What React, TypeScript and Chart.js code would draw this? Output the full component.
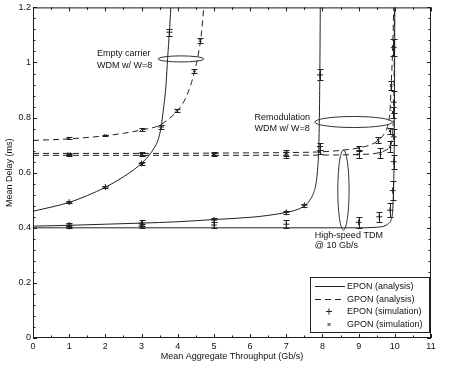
import React, { useEffect, useRef } from "react";
import { Chart, registerables } from "chart.js";

Chart.register(...registerables);

const FONT = '"Liberation Sans", Arial, Helvetica, sans-serif';
const INK = "#222";

// ---- axis ticks ----
const xMajorTicks = [0, 1, 2, 3, 4, 5, 6, 7, 8, 9, 10, 11];
const xMinorTicks = [0.5, 1.5, 2.5, 3.5, 4.5, 5.5, 6.5, 7.5, 8.5, 9.5, 10.5];
const yMajorTicks = [0, 0.2, 0.4, 0.6, 0.8, 1.0, 1.2];
const yMinorTicks = [
  0.04, 0.08, 0.12, 0.16, 0.24, 0.28, 0.32, 0.36, 0.44, 0.48, 0.52, 0.56,
  0.64, 0.68, 0.72, 0.76, 0.84, 0.88, 0.92, 0.96, 1.04, 1.08, 1.12, 1.16,
];

// ---- analysis curves [throughput Gb/s, delay ms] ----
const eponEmptyCarrier = [
  [0, 0.46], [0.5, 0.475], [1, 0.492], [1.5, 0.517], [2, 0.547], [2.5, 0.585],
  [2.8, 0.612], [3, 0.634], [3.2, 0.662], [3.35, 0.69], [3.46, 0.72], [3.54, 0.766],
  [3.6, 0.825], [3.68, 0.925], [3.72, 1.014], [3.77, 1.11], [3.81, 1.2],
];
const gponEmptyCarrier = [
  [0, 0.717], [1, 0.723], [2, 0.734], [2.5, 0.743], [3, 0.755], [3.5, 0.772],
  [3.75, 0.795], [4, 0.826], [4.2, 0.866], [4.35, 0.915], [4.46, 0.965],
  [4.57, 1.03], [4.65, 1.1], [4.72, 1.2],
];
const eponRemodulation = [
  [0, 0.406], [1, 0.409], [2, 0.413], [3, 0.417], [4, 0.422], [5, 0.43],
  [6, 0.438], [6.5, 0.445], [7, 0.456], [7.3, 0.466], [7.5, 0.48], [7.65, 0.5],
  [7.75, 0.525], [7.82, 0.56], [7.87, 0.62], [7.9, 0.7], [7.92, 0.85],
  [7.93, 1.0], [7.94, 1.2],
];
const gponRemodulation = [
  [0, 0.67], [3, 0.67], [6, 0.672], [7, 0.673], [8, 0.676], [8.5, 0.681],
  [9, 0.69], [9.3, 0.7], [9.55, 0.718], [9.72, 0.745], [9.82, 0.78],
  [9.87, 0.83], [9.9, 0.92], [9.94, 1.05], [9.97, 1.2],
];
const eponTdm = [
  [0, 0.4], [5, 0.4], [9, 0.4], [9.5, 0.402], [9.7, 0.406], [9.82, 0.415],
  [9.9, 0.43], [9.94, 0.46], [9.96, 0.52], [9.98, 0.65], [9.99, 0.85], [10.0, 1.2],
];
const gponTdm = [
  [0, 0.663], [5, 0.663], [8, 0.664], [9, 0.666], [9.4, 0.669], [9.6, 0.674],
  [9.78, 0.684], [9.87, 0.695], [9.93, 0.73], [9.96, 0.8], [9.98, 0.95], [9.99, 1.2],
];

// ---- simulation points [x, y] and half error bars ----
const eponSimulation = [
  [1, 0.493], [2, 0.548], [3, 0.633], [3.54, 0.766], [3.77, 1.11],
  [1, 0.41], [3, 0.417], [5, 0.428], [7, 0.456], [7.5, 0.482], [7.93, 0.695], [7.93, 0.955],
  [1, 0.405], [3, 0.407], [5, 0.41], [7, 0.413], [9, 0.42], [9.57, 0.44], [9.87, 0.464],
  [9.94, 0.535], [9.97, 0.64], [9.97, 0.73], [9.97, 0.856], [9.97, 1.055],
];
const eponSimulationErr = [
  0.003, 0.004, 0.006, 0.006, 0.012,
  0.007, 0.01, 0.008, 0.006, 0.006, 0.012, 0.02,
  0.005, 0.007, 0.01, 0.014, 0.019, 0.018, 0.026,
  0.035, 0.025, 0.03, 0.04, 0.03,
];
const gponSimulation = [
  [1, 0.725], [2, 0.735], [3, 0.757], [3.97, 0.827], [4.46, 0.97], [4.62, 1.08],
  [1, 0.669], [3, 0.669], [5, 0.67], [7, 0.672], [7.93, 0.675], [9, 0.69], [9.54, 0.718],
  [9.87, 0.752], [9.9, 0.917],
  [1, 0.665], [3, 0.665], [5, 0.665], [7, 0.664], [9, 0.667], [9.6, 0.67], [9.87, 0.694],
  [9.95, 0.82], [9.96, 1.055],
];
const gponSimulationErr = [
  0.003, 0.003, 0.004, 0.005, 0.008, 0.01,
  0.004, 0.005, 0.006, 0.01, 0.008, 0.008, 0.01, 0.012, 0.017,
  0.003, 0.005, 0.006, 0.01, 0.012, 0.018, 0.02, 0.02, 0.03,
];

const legendLabels = ["EPON (analysis)", "GPON (analysis)", "EPON (simulation)", "GPON (simulation)"];

// annotation ellipses (data units) and texts
const annotationEllipses = [
  { cx: 4.09, cy: 1.013, rx: 0.63, ry: 0.011 },
  { cx: 8.86, cy: 0.784, rx: 1.07, ry: 0.02 },
  { cx: 8.58, cy: 0.537, rx: 0.156, ry: 0.145 },
];
const annotationTexts = [
  { x: 1.77, y: 1.033, text: "Empty carrier" },
  { x: 1.77, y: 0.99, text: "WDM w/ W=8" },
  { x: 6.12, y: 0.801, text: "Remodulation" },
  { x: 6.12, y: 0.761, text: "WDM w/ W=8" },
  { x: 7.79, y: 0.373, text: "High-speed TDM" },
  { x: 7.79, y: 0.334, text: "@ 10 Gb/s" },
];

const toXY = (pts: number[][]) => pts.map(([x, y]) => ({ x, y }));

const analysisLine = (label: string, pts: number[][], dashed: boolean) => ({
  type: "line" as const,
  label,
  data: toXY(pts),
  borderColor: INK,
  borderWidth: 1,
  borderDash: dashed ? [6, 4] : [],
  pointRadius: 0,
  pointHoverRadius: 0,
  fill: false,
  cubicInterpolationMode: "monotone" as const,
});

const framePlugin = {
  id: "frame",
  afterDatasetsDraw(chart: any) {
    const { ctx, chartArea, scales } = chart;
    const { left, right, top, bottom } = chartArea;
    const xs = scales.x;
    const ys = scales.y;
    ctx.save();

    // error bars
    const errs = [
      { idx: 6, e: eponSimulationErr },
      { idx: 7, e: gponSimulationErr },
    ];
    ctx.strokeStyle = INK;
    ctx.lineWidth = 1;
    errs.forEach(({ idx, e }) => {
      const ds = chart.data.datasets[idx];
      ds.data.forEach((p: any, i: number) => {
        const px = Math.round(xs.getPixelForValue(p.x)) + 0.5;
        const y1 = Math.round(ys.getPixelForValue(p.y + e[i])) + 0.5;
        const y2 = Math.round(ys.getPixelForValue(p.y - e[i])) + 0.5;
        ctx.beginPath();
        ctx.moveTo(px, y1);
        ctx.lineTo(px, y2);
        ctx.moveTo(px - 3, y1);
        ctx.lineTo(px + 3, y1);
        ctx.moveTo(px - 3, y2);
        ctx.lineTo(px + 3, y2);
        ctx.stroke();
      });
    });

    // ellipses
    ctx.strokeStyle = "#333";
    annotationEllipses.forEach((el) => {
      const cx = xs.getPixelForValue(el.cx);
      const cy = ys.getPixelForValue(el.cy);
      const rx = Math.abs(xs.getPixelForValue(el.cx + el.rx) - cx);
      const ry = Math.abs(ys.getPixelForValue(el.cy + el.ry) - cy);
      ctx.beginPath();
      ctx.ellipse(cx, cy, rx, ry, 0, 0, Math.PI * 2);
      ctx.stroke();
    });

    // annotation texts
    ctx.fillStyle = "#111";
    ctx.font = `9px ${FONT}`;
    ctx.textAlign = "left";
    ctx.textBaseline = "middle";
    annotationTexts.forEach((t) => {
      ctx.fillText(t.text, xs.getPixelForValue(t.x), ys.getPixelForValue(t.y));
    });

    // frame box
    ctx.strokeStyle = "#1a1a1a";
    ctx.lineWidth = 1;
    ctx.strokeRect(left + 0.5, top + 0.5, right - left - 1, bottom - top - 1);

    // inward ticks
    ctx.beginPath();
    const xt = (v: number, len: number) => {
      const px = Math.round(xs.getPixelForValue(v)) + 0.5;
      ctx.moveTo(px, bottom);
      ctx.lineTo(px, bottom - len);
      ctx.moveTo(px, top);
      ctx.lineTo(px, top + len);
    };
    const yt = (v: number, len: number) => {
      const py = Math.round(ys.getPixelForValue(v)) + 0.5;
      ctx.moveTo(left, py);
      ctx.lineTo(left + len, py);
      ctx.moveTo(right, py);
      ctx.lineTo(right - len, py);
    };
    xMajorTicks.forEach((v) => xt(v, 4));
    xMinorTicks.forEach((v) => xt(v, 2.5));
    yMajorTicks.forEach((v) => yt(v, 4));
    yMinorTicks.forEach((v) => yt(v, 2.5));
    ctx.stroke();
    ctx.restore();
  },
  afterDraw(chart: any) {
    const { ctx, chartArea } = chart;
    const bx = chartArea.right - 121;
    const by = chartArea.bottom - 61;
    const bw = 119;
    const bh = 55;
    ctx.save();
    ctx.fillStyle = "#fff";
    ctx.fillRect(bx, by, bw, bh);
    ctx.strokeStyle = "#222";
    ctx.lineWidth = 1;
    ctx.strokeRect(bx + 0.5, by + 0.5, bw, bh);
    ctx.font = `9px ${FONT}`;
    ctx.textAlign = "left";
    ctx.textBaseline = "middle";
    legendLabels.forEach((lab, i) => {
      const cy = Math.round(by + 9 + i * 12.5) + 0.5;
      ctx.strokeStyle = INK;
      ctx.beginPath();
      if (i === 0) {
        ctx.setLineDash([]);
        ctx.moveTo(bx + 5, cy);
        ctx.lineTo(bx + 35, cy);
      } else if (i === 1) {
        ctx.setLineDash([6, 4]);
        ctx.moveTo(bx + 5, cy);
        ctx.lineTo(bx + 35, cy);
      } else if (i === 2) {
        ctx.setLineDash([]);
        ctx.moveTo(bx + 19, cy - 3);
        ctx.lineTo(bx + 19, cy + 3);
        ctx.moveTo(bx + 16, cy);
        ctx.lineTo(bx + 22, cy);
      } else {
        ctx.setLineDash([]);
        ctx.moveTo(bx + 17.5, cy - 1.5);
        ctx.lineTo(bx + 20.5, cy + 1.5);
        ctx.moveTo(bx + 20.5, cy - 1.5);
        ctx.lineTo(bx + 17.5, cy + 1.5);
      }
      ctx.stroke();
      ctx.setLineDash([]);
      ctx.fillStyle = "#111";
      ctx.fillText(lab, bx + 37, cy);
    });
    ctx.restore();
  },
};

export default function App() {
  const ref = useRef<HTMLCanvasElement>(null);
  useEffect(() => {
    if (!ref.current) return;
    const chart = new Chart(ref.current, {
      type: "line",
      data: {
        datasets: [
          analysisLine("EPON (analysis)", eponEmptyCarrier, false),
          analysisLine("GPON (analysis)", gponEmptyCarrier, true),
          analysisLine("EPON (analysis)", eponRemodulation, false),
          analysisLine("GPON (analysis)", gponRemodulation, true),
          analysisLine("EPON (analysis)", eponTdm, false),
          analysisLine("GPON (analysis)", gponTdm, true),
          {
            type: "scatter",
            label: "EPON (simulation)",
            data: toXY(eponSimulation),
            pointStyle: "cross",
            pointRadius: 3,
            borderColor: INK,
            backgroundColor: INK,
            borderWidth: 1,
            showLine: false,
          },
          {
            type: "scatter",
            label: "GPON (simulation)",
            data: toXY(gponSimulation),
            pointStyle: "crossRot",
            pointRadius: 2,
            borderColor: INK,
            backgroundColor: INK,
            borderWidth: 1,
            showLine: false,
          },
        ] as any,
      },
      options: {
        animation: false,
        responsive: false,
        maintainAspectRatio: false,
        devicePixelRatio: 1,
        layout: { padding: { top: 7, right: 23, left: 0, bottom: 0 } },
        plugins: {
          legend: { display: false },
          tooltip: { enabled: false },
          title: { display: false },
        },
        scales: {
          x: {
            type: "linear",
            min: 0,
            max: 11,
            grid: { display: false, drawTicks: false },
            border: { display: false },
            ticks: {
              stepSize: 1,
              autoSkip: false,
              maxRotation: 0,
              padding: 3,
              color: "#111",
              font: { family: FONT, size: 9 },
            },
            title: {
              display: true,
              text: "Mean Aggregate Throughput (Gb/s)",
              color: "#111",
              font: { family: FONT, size: 9 },
              padding: { top: 0, bottom: 3 },
            },
            afterFit: (scale: any) => {
              scale.height = 27;
            },
          },
          y: {
            type: "linear",
            min: 0,
            max: 1.2,
            grid: { display: false, drawTicks: false },
            border: { display: false },
            ticks: {
              stepSize: 0.2,
              padding: 2,
              color: "#111",
              font: { family: FONT, size: 9 },
              callback: (v: any) => String(Math.round(Number(v) * 10) / 10),
            },
            title: {
              display: true,
              text: "Mean Delay (ms)",
              color: "#111",
              font: { family: FONT, size: 9 },
              padding: { top: 4, bottom: 0 },
            },
            afterFit: (scale: any) => {
              scale.width = 33;
            },
          },
        },
      } as any,
      plugins: [framePlugin],
    });
    return () => chart.destroy();
  }, []);
  return (
    <div style={{ position: "fixed", left: 0, top: 0, width: 454, height: 365, background: "#fff" }}>
      <canvas ref={ref} width={454} height={365} style={{ display: "block", width: 454, height: 365 }} />
    </div>
  );
}
